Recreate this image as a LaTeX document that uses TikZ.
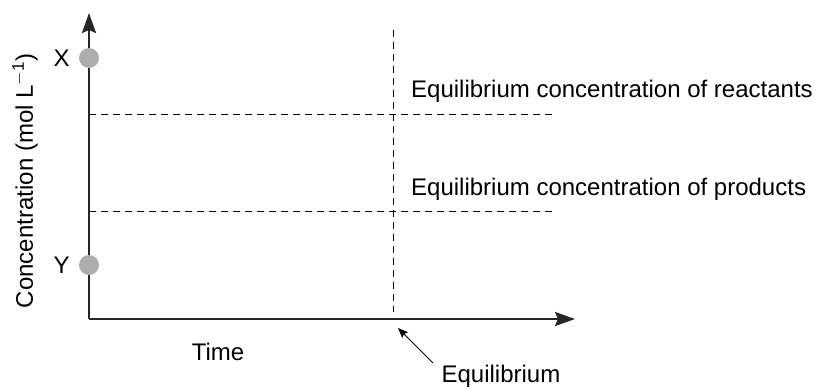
\documentclass[tikz,border=0pt]{standalone}
\usepackage{fontspec}
\setmainfont{Liberation Sans}
\usetikzlibrary{arrows.meta,positioning}
\definecolor{dotgrey}{gray}{0.68}
\definecolor{axisblack}{gray}{0.15}
\tikzset{
  axis/.style={line width=2.6pt,draw=axisblack,-{Stealth[length=20pt,width=14pt,inset=3pt]}},
  guide/.style={line width=1pt,dash pattern=on 7pt off 5pt},
  point/.style={circle,fill=dotgrey,inner sep=0pt,minimum size=20pt},
  lbl/.style={font=\fontsize{24}{28}\selectfont,inner sep=0pt}
}
\begin{document}
\begin{tikzpicture}[x=1pt,y=-1pt]
		\useasboundingbox (0,0) rectangle (820,391);
		% axes
		\coordinate (origin) at (89,319);
		\coordinate (ytop) at (89,13);
		\coordinate (xend) at (575,319);
		\draw[axis] (origin) -- (ytop);
		\draw[axis] (origin) -- (xend);
		% equilibrium levels
		\coordinate (reacL) at (89,114);
		\coordinate (reacR) at (555,114);
		\coordinate (prodL) at (89,211);
		\coordinate (prodR) at (555,211);
		\draw[guide] (reacL) -- (reacR);
		\draw[guide] (prodL) -- (prodR);
		\coordinate (eqtop) at (393,30);
		\coordinate (eqbot) at (393,312);
		\draw[guide] (eqtop) -- (eqbot);
		% starting concentrations
		\node[point] (ptX) at (89,58) {};
		\node[point] (ptY) at (89,265) {};
		\node[lbl,left=9pt of ptX] (labX) {X};
		\node[lbl,left=9pt of ptY] (labY) {Y};
		% texts
		\node[lbl,anchor=west] (reac) at (411,91) {Equilibrium concentration of reactants};
		\node[lbl,anchor=west] (prod) at (411,189) {Equilibrium concentration of products};
		\node[lbl] (time) at (218,352) {Time};
		\node[lbl,rotate=90] (conc) at (25,181) {Concentration (mol L\textsuperscript{$-$1})};
		\node[lbl] (eqlabel) at (501,376) {Equilibrium};
		\coordinate (eqtip) at (398,328);
		\coordinate (eqtail) at (433,363);
		\draw[line width=1pt,-{Stealth[length=10pt,width=8pt,inset=1.5pt]}] (eqtail) -- (eqtip);
	\end{tikzpicture}
\end{document}
